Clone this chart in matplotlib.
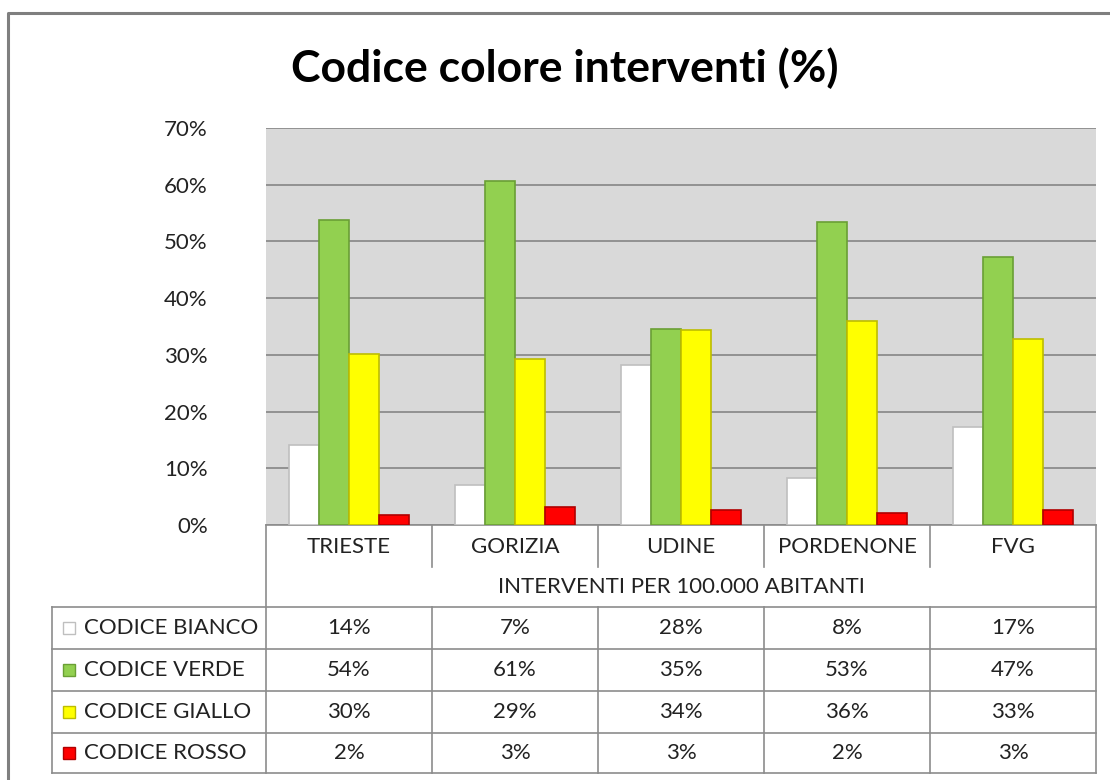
import matplotlib
matplotlib.use("Agg")
from matplotlib import pyplot as plt
from matplotlib.patches import Rectangle
import numpy as np

plt.rcParams["font.family"] = ["Lato", "DejaVu Sans"]

categories = ["TRIESTE", "GORIZIA", "UDINE", "PORDENONE", "FVG"]
series_names = ["CODICE BIANCO", "CODICE VERDE", "CODICE GIALLO", "CODICE ROSSO"]
bianco = [14.1, 7.1, 28.2, 8.3, 17.3]
verde = [53.8, 60.7, 34.6, 53.4, 47.3]
giallo = [30.2, 29.3, 34.4, 36.0, 32.8]
rosso = [1.8, 3.2, 2.6, 2.1, 2.6]
yticks = [0, 10, 20, 30, 40, 50, 60, 70]
x_title = "INTERVENTI PER 100.000 ABITANTI"
title = "Codice colore interventi (%)"

series = [bianco, verde, giallo, rosso]
face = ["#FFFFFF", "#92D050", "#FFFF00", "#FF0000"]
edge = ["#BFBFBF", "#6A9F35", "#BDBD00", "#B00000"]

W, H = 1110, 780
fig = plt.figure(figsize=(W / 100, H / 100), dpi=100)

# pixel layout
px_left, px_right, px_top, px_bottom = 266, 1096, 128, 525


def fx(x):
    return x / W


def fy(y):
    return 1 - y / H


# overlay for border + table
ov = fig.add_axes([0, 0, 1, 1])
ov.set_xlim(0, W)
ov.set_ylim(H, 0)
ov.axis("off")

# outer chart border
ov.plot([8, 8, W], [H, 13, 13], color="#7F7F7F", lw=2.2, solid_capstyle="butt")
ov.text(565, 68, title, ha="center", va="center", fontsize=32,
        fontweight="bold", color="black")

ax = fig.add_axes([fx(px_left), fy(px_bottom), fx(px_right - px_left),
                   (px_bottom - px_top) / H])
ax.set_facecolor("#D9D9D9")

x = np.arange(len(categories))
bw = 0.18
for i, vals in enumerate(series):
    ax.bar(x + (i - 1.5) * bw, vals, width=bw, color=face[i],
           edgecolor=edge[i], linewidth=1.2, zorder=3)

ax.set_xlim(-0.5, len(categories) - 0.5)
ax.set_ylim(0, 70)
ax.set_yticks(yticks)
ax.set_yticklabels([f"{t}%" for t in yticks], fontsize=16, color="#222222")
ax.tick_params(axis="y", length=0, pad=42)
ax.set_xticks([])
ax.grid(axis="y", color="#868686", lw=1.2, zorder=1)
for s in ["left", "right", "top"]:
    ax.spines[s].set_visible(False)
ax.spines["bottom"].set_color("#8C8C8C")
ax.spines["bottom"].set_linewidth(1.2)

# data table under the plot
lc = "#8C8C8C"
cat_w = (px_right - px_left) / len(categories)
row_y = [607, 649, 691, 733, 773]
bounds = [px_left + k * cat_w for k in range(len(categories) + 1)]

for k, b in enumerate(bounds):
    if k in (0, len(bounds) - 1):
        ov.plot([b, b], [px_bottom, row_y[-1]], color=lc, lw=1.2)
    else:
        ov.plot([b, b], [px_bottom, 567], color=lc, lw=1.2)
        ov.plot([b, b], [row_y[0], row_y[-1]], color=lc, lw=1.2)
for k, c in enumerate(categories):
    ov.text(bounds[k] + cat_w / 2, 547, c, ha="center", va="center",
            fontsize=16, color="#222222")
ov.text((px_left + px_right) / 2, 587, x_title, ha="center", va="center",
        fontsize=16, color="#222222")

for y in row_y:
    ov.plot([52, px_right], [y, y], color=lc, lw=1.2)
ov.plot([52, 52], [row_y[0], row_y[-1]], color=lc, lw=1.2)

for r, name in enumerate(series_names):
    yc = (row_y[r] + row_y[r + 1]) / 2
    ov.add_patch(Rectangle((63, yc - 6), 12, 12, facecolor=face[r],
                           edgecolor=edge[r], lw=1))
    ov.text(84, yc, name, ha="left", va="center", fontsize=16, color="#222222")
    for k, v in enumerate(series[r]):
        ov.text(bounds[k] + cat_w / 2, yc, f"{round(v):d}%", ha="center",
                va="center", fontsize=16, color="#222222")

fig.savefig("out.png", dpi=100)
